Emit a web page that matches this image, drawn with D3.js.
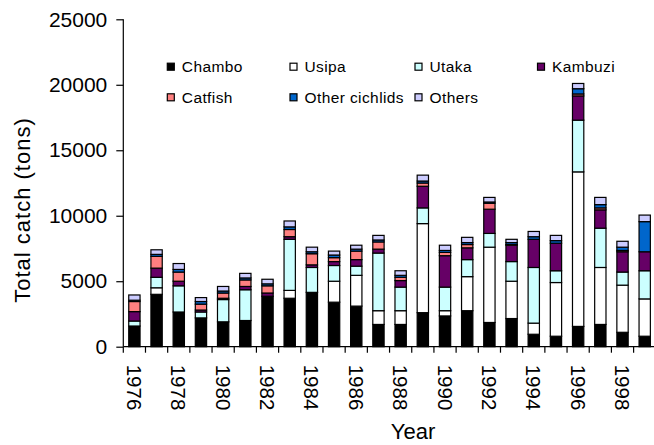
<!DOCTYPE html>
<html><head><meta charset="utf-8">
<script src="https://cdn.jsdelivr.net/npm/d3@7"></script>
<style>body{margin:0;background:#fff;}svg{display:block;} svg text{font-family:"Liberation Sans",Arial,Helvetica,sans-serif;}</style>
</head><body><svg id="c" width="654" height="445"></svg>
<script>
const years = [1976,1977,1978,1979,1980,1981,1982,1983,1984,1985,1986,1987,1988,1989,1990,1991,1992,1993,1994,1995,1996,1997,1998,1999];
const seriesNames = ["Chambo","Usipa","Utaka","Kambuzi","Catfish","Other cichlids","Others"];
const chambo       = [1580,4000,2650,2200,1900,2000,3850,3700,4150,3400,3100,1700,1700,2600,2350,2750,1850,2150, 950, 800, 1550,1700,1100, 800];
const usipa        = [   0, 500,   0,   0,   0,   0,   0, 600,   0,1600,2350,1050,1050,6800, 400,2600,5750,2850, 850,4100,11800,4350,3600,2850];
const utaka        = [ 380, 800,2000, 450,1700,2350,   0,3900,1900,1200, 700,4400,1800,1200,1800,1300,1050,1500,4250, 900, 3950,3000,1000,2150];
const kambuzi      = [ 720, 700, 350, 150, 100, 250, 250, 200, 200, 300, 500, 300, 500,1650,2400, 900,1850,1250,2150,2100, 1850,1400,1550,1450];
const catfish      = [ 770, 900, 700, 450, 400, 500, 550, 550, 850, 300, 650, 550, 250, 250, 250, 250, 450,  50,   0,   0,  150, 150, 100,   0];
const otherCichlids= [ 100, 150, 200, 200, 150, 150, 150, 200, 150, 200, 150, 150, 150, 150, 150, 150, 100, 150, 200, 200,  400, 250, 250,2300];
const others       = [ 400, 350, 450, 300, 350, 350, 350, 450, 350, 300, 300, 350, 350, 450, 400, 400, 350, 250, 400, 400,  400, 550, 450, 500];
const colors = ["#000000","#ffffff","#ccffff","#660066","#ff8080","#0066cc","#ccccff"];
const yTicks = [0,5000,10000,15000,20000,25000];
const xLabels = [1976,1978,1980,1982,1984,1986,1988,1990,1992,1994,1996,1998];

const seriesVals = [chambo,usipa,utaka,kambuzi,catfish,otherCichlids,others];
const table = years.map((y,i)=>{const o={year:y};seriesNames.forEach((n,k)=>o[n]=seriesVals[k][i]);return o;});

const FONT='"Liberation Sans", Arial, Helvetica, sans-serif';
const svg = d3.select("#c");
const pLeft=123.3, pRight=655.8, pTop=19.3, pBottom=346.7;
const x = d3.scaleBand().domain(years).range([pLeft,pRight]).paddingInner(0.49).paddingOuter(0.245);
const y = d3.scaleLinear().domain([0,25000]).range([pBottom,pTop]);

const stack = d3.stack().keys(seriesNames)(table);
const g = svg.append("g");
stack.forEach((layer,k)=>{
  g.selectAll(null).data(layer.filter(d=>d[1]-d[0]>0)).enter().append("rect")
   .attr("x",d=>x(d.data.year))
   .attr("width",x.bandwidth())
   .attr("y",d=>y(d[1]))
   .attr("height",d=>y(d[0])-y(d[1]))
   .attr("fill",colors[k])
   .attr("stroke","#000").attr("stroke-width",1.2);
});

// y axis
const ya = svg.append("g").attr("transform",`translate(${pLeft},0)`)
  .call(d3.axisLeft(y).tickValues(yTicks).tickFormat(d3.format("d")).tickSize(7).tickPadding(9));
ya.attr("font-family",FONT);
ya.select(".domain").attr("stroke","#000").attr("stroke-width",1.2).attr("d",`M0,${pTop}V${pBottom}`);
ya.selectAll(".tick line").attr("stroke","#000").attr("stroke-width",1.2);
ya.selectAll(".tick text").attr("font-size","21px").attr("fill","#000").attr("font-family",FONT);

// x axis line and ticks at band boundaries
svg.append("line").attr("x1",pLeft).attr("x2",654).attr("y1",pBottom).attr("y2",pBottom).attr("stroke","#000").attr("stroke-width",1.2);
const step = x.step();
svg.selectAll(null).data(years).enter().append("line")
  .attr("x1",(d,i)=>pLeft+i*step).attr("x2",(d,i)=>pLeft+i*step)
  .attr("y1",pBottom).attr("y2",pBottom+6).attr("stroke","#000").attr("stroke-width",1.2);
svg.selectAll(null).data(xLabels).enter().append("text")
  .attr("transform",d=>`translate(${x(d)+x.bandwidth()/2-7.5},${pBottom+18}) rotate(90)`)
  .attr("text-anchor","start").attr("font-size","20.5px").attr("fill","#000").attr("font-family",FONT)
  .text(d=>d);

svg.append("text").attr("x",413).attr("y",439).attr("text-anchor","middle").attr("font-size","22px").attr("font-family",FONT).text("Year");
svg.append("text").attr("transform","translate(29.5,210) rotate(-90)").attr("text-anchor","middle")
  .attr("font-size","22px").attr("letter-spacing","1px").attr("font-family",FONT).text("Total catch (tons)");

// legend
const legPos = [[167.3,66.7],[290,66.7],[415,66.7],[537.5,66.7],[167.3,97.3],[290,97.3],[415,97.3]];
seriesNames.forEach((n,k)=>{
  const [lx,ly]=legPos[k];
  svg.append("rect").attr("x",lx).attr("y",ly-3.5).attr("width",7).attr("height",7)
    .attr("fill",colors[k]).attr("stroke","#000").attr("stroke-width",1.2);
  svg.append("text").attr("x",lx+14.5).attr("y",ly+5.2).attr("font-size","15.5px").attr("letter-spacing","0.4px")
    .attr("font-family",FONT).text(n);
});
</script></body></html>
